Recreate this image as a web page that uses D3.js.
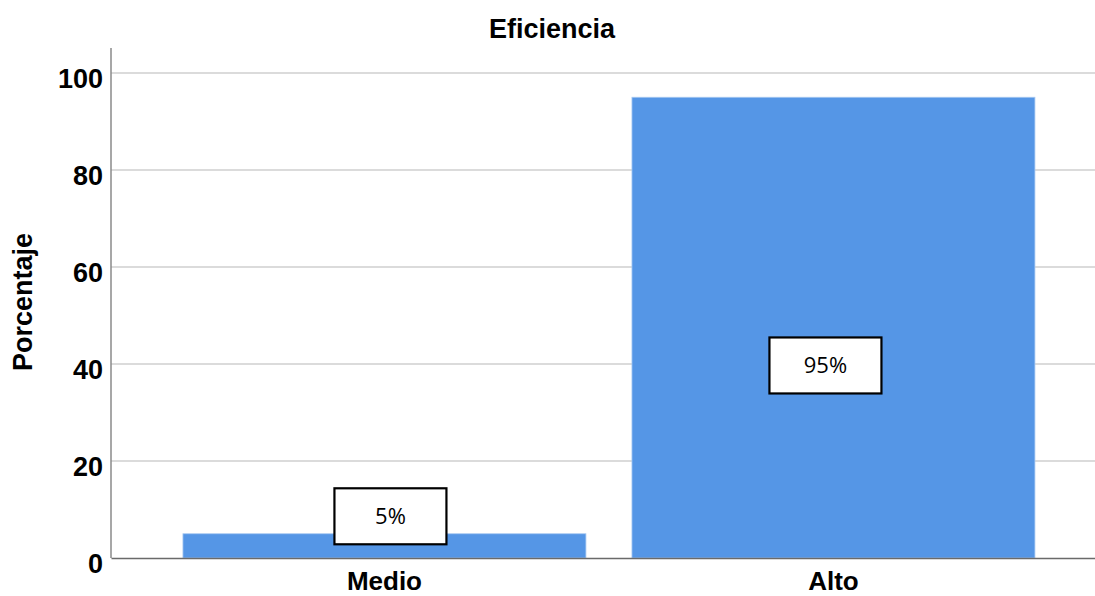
<!DOCTYPE html>
<html>
<head>
<meta charset="utf-8">
<script src="https://cdn.jsdelivr.net/npm/d3@7"></script>
<style>
  html, body { margin: 0; padding: 0; background: #fff; }
  svg { display: block; }
</style>
</head>
<body>
<div id="chart"></div>
<script>
// Distribution of the "Eficiencia" rating (percent of respondents)
const categories = ["Medio", "Alto"];
const percentages = [5, 95];
const valueLabels = ["5%", "95%"];
const yTicks = [0, 20, 40, 60, 80, 100];

const width = 1095, height = 596;
const plot = { left: 111, right: 1095, top: 73, bottom: 558, axisTop: 48 };

const svg = d3.select("#chart").append("svg")
  .attr("width", width)
  .attr("height", height);

const x = d3.scaleBand()
  .domain(categories)
  .range([plot.left, plot.right])
  .paddingInner(0.1025)
  .paddingOuter(0.147)
  .align(0.545);

const y = d3.scaleLinear()
  .domain([0, 100])
  .range([plot.bottom, plot.top]);

const boldFont = "'Liberation Sans', Arial, sans-serif";

// Horizontal grid lines
svg.append("g")
  .selectAll("line")
  .data(yTicks.filter(d => d > 0))
  .join("line")
  .attr("x1", plot.left)
  .attr("x2", plot.right)
  .attr("y1", d => y(d))
  .attr("y2", d => y(d))
  .attr("stroke", "#cfcfcf")
  .attr("stroke-width", 1.5);

// Bars
svg.append("g")
  .selectAll("rect")
  .data(categories)
  .join("rect")
  .attr("x", d => x(d))
  .attr("y", (d, i) => y(percentages[i]))
  .attr("width", x.bandwidth())
  .attr("height", (d, i) => y(0) - y(percentages[i]))
  .attr("fill", "#5596e6")
  .attr("stroke", "#a8c9f2")
  .attr("stroke-width", 0.8);

// Y axis
const yAxis = d3.axisLeft(y)
  .tickValues(yTicks)
  .tickSize(0)
  .tickPadding(8)
  .tickFormat(d3.format("d"));

const gy = svg.append("g")
  .attr("transform", `translate(${plot.left},0)`)
  .call(yAxis);
gy.select(".domain").remove();
gy.selectAll("text")
  .attr("font-family", boldFont)
  .attr("font-weight", "bold")
  .attr("font-size", 27)
  .attr("fill", "#000")
  .attr("dy", "0.53em");

svg.append("line")
  .attr("x1", plot.left).attr("x2", plot.left)
  .attr("y1", plot.axisTop).attr("y2", plot.bottom)
  .attr("stroke", "#8a8a8a")
  .attr("stroke-width", 1.5);

// X axis
const xAxis = d3.axisBottom(x).tickSize(0).tickPadding(14);
const gx = svg.append("g")
  .attr("transform", `translate(0,${plot.bottom})`)
  .call(xAxis);
gx.select(".domain")
  .attr("stroke", "#6a6a6a")
  .attr("stroke-width", 1.5);
gx.selectAll("text")
  .attr("font-family", boldFont)
  .attr("font-weight", "bold")
  .attr("font-size", 26)
  .attr("fill", "#000");

// Value labels in boxes
const labelBox = { w: 112, h: 56 };
const labelCenters = [
  d => ({ cx: x.bandwidth() / 2 + x(d) + 6, cy: y(8.6) }),
  d => ({ cx: x.bandwidth() / 2 + x(d) - 8, cy: y(39.7) })
];
const labels = svg.append("g")
  .selectAll("g")
  .data(categories)
  .join("g")
  .attr("transform", (d, i) => {
    const c = labelCenters[i](d);
    return `translate(${c.cx},${c.cy})`;
  });
labels.append("rect")
  .attr("x", -labelBox.w / 2)
  .attr("y", -labelBox.h / 2)
  .attr("width", labelBox.w)
  .attr("height", labelBox.h)
  .attr("fill", "#fff")
  .attr("stroke", "#000")
  .attr("stroke-width", 2.2);
labels.append("text")
  .attr("text-anchor", "middle")
  .attr("dy", "0.36em")
  .attr("font-family", "'Open Sans', 'Noto Sans', sans-serif")
  .attr("font-size", 22)
  .attr("fill", "#000")
  .text((d, i) => valueLabels[i]);

// Title
svg.append("text")
  .attr("x", 552)
  .attr("y", 38)
  .attr("text-anchor", "middle")
  .attr("font-family", boldFont)
  .attr("font-weight", "bold")
  .attr("font-size", 27)
  .text("Eficiencia");

// Y axis title
svg.append("text")
  .attr("transform", "translate(32,302) rotate(-90)")
  .attr("text-anchor", "middle")
  .attr("font-family", boldFont)
  .attr("font-weight", "bold")
  .attr("font-size", 27)
  .text("Porcentaje");
</script>
</body>
</html>
